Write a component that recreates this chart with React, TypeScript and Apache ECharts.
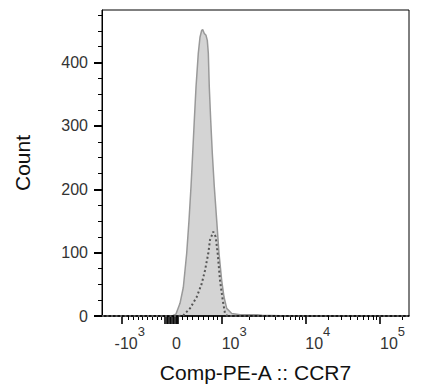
import React, { useEffect, useRef } from "react";
import * as echarts from "echarts";

// X positions are logicle display channels (0..1000 across the axis)
const grayChannel = [0, 221.5, 231.3, 241, 254.1, 264.8, 275.9, 283.4, 289.9, 295.4, 300.7, 306.2, 313.7, 319.2, 324.8, 328, 333.2, 338.8, 343, 346.3, 349.5, 354.1, 359.3, 365.8, 373.6, 381.1, 389.9, 397.4, 406.2, 422.5, 449.5, 482.1, 504.9, 521.2, 579.8, 644.9, 1000];
const grayCount = [0, 0, 1, 3, 20, 45, 99, 151, 204, 257, 309, 361, 415, 440, 451, 452, 446, 443, 435, 415, 361, 309, 257, 204, 151, 99, 56, 30, 12, 4, 2, 2, 2, 1, 0.5, 0, 0];

const dottedChannel = [0, 248.5, 264.8, 286.6, 308.5, 324.8, 335.5, 346.3, 351.8, 362.5, 370.4, 376.9, 384.4, 393.2, 400.7, 408.1, 1000];
const dottedCount = [0, 0, 1, 12, 30, 51, 72, 99, 120, 133, 125, 98, 56, 25, 4, 0, 0];

const xLabelChannel = [64.2, 242.7, 389.9, 662.2, 905.5];
const xTickLabels = ["-10^3", "0", "10^3", "10^4", "10^5"];
const xZeroCluster = [205, 210, 215, 220, 225, 230, 234.5, 239.4, 244.3, 247.6];
const xMinorChannel = [85.7, 102, 118.2, 132.6, 148.9, 165.2, 180.1, 194.5, 262.9, 277.9, 295.4, 313.7, 330, 346.3, 362.5, 375.6, 479.8, 528.7, 563.5, 590.6, 612.4, 628.7, 641.7, 652.4, 735.5, 778.2, 808.8, 832.2, 851.5, 867.8, 882.1, 894.5, 978.8];

const yMajor = [0, 100, 200, 300, 400];
const yMinor = [25, 50, 75, 125, 150, 175, 225, 250, 275, 325, 350, 375, 425, 450, 475];
const yMax = 483;

const xTitle = "Comp-PE-A :: CCR7";
const yTitle = "Count";

const FONT = "'Liberation Sans', Arial, sans-serif";

export default function App() {
  const ref = useRef<HTMLDivElement>(null);
  useEffect(() => {
    if (!ref.current) return;
    const chart = echarts.init(ref.current, undefined, { renderer: "svg" });
    const zip = (xs: number[], ys: number[]) => xs.map((x, i) => [x, ys[i]]);
    const labelColor = "#333";
    const parse = (v: number) => {
      const i = xLabelChannel.findIndex((p) => Math.abs(p - v) < 0.01);
      const lab = xTickLabels[i] ?? "";
      const m = lab.match(/^(-?)10\^(\d+)$/);
      return { lab, m };
    };
    const baseRich = {
      b: { fontSize: 16, lineHeight: 18, fontFamily: FONT, color: labelColor },
      pp: { width: 17.8, fontSize: 10, lineHeight: 10, fontFamily: FONT },
      pn: { width: 8.8, fontSize: 10, lineHeight: 10, fontFamily: FONT },
    };
    const expRich = {
      e: { fontSize: 13, lineHeight: 14, fontFamily: FONT, color: labelColor },
      qp: { width: 17.8, fontSize: 10, lineHeight: 10, fontFamily: FONT },
      qn: { width: 16, fontSize: 10, lineHeight: 10, fontFamily: FONT },
    };
    const hidden = { show: false };
    const option: any = {
      animation: false,
      textStyle: { fontFamily: FONT },
      grid: { left: 102, top: 10, width: 307, height: 306, outerBoundsMode: "none", containLabel: false, show: true, borderColor: "#000", borderWidth: 1, backgroundColor: "transparent", z: 2 },
      xAxis: [
        {
          type: "value", min: 0, max: 1000, position: "bottom", z: 2,
          name: xTitle, nameLocation: "middle", nameGap: 46,
          nameTextStyle: { fontSize: 21, color: "#111", fontFamily: FONT },
          axisLine: { show: true, onZero: false, lineStyle: { color: "#000", width: 1.5 } },
          axisTick: { show: true, length: 8, customValues: [xLabelChannel[0], ...xZeroCluster, ...xLabelChannel.slice(2)], lineStyle: { color: "#000", width: 1.6 } },
          axisLabel: {
            show: true, margin: 18, customValues: xLabelChannel, rich: baseRich,
            formatter: (v: number) => {
              const { lab, m } = parse(v);
              if (!m) return `{b|${lab}}`;
              return m[1] ? `{pn| }{b|-10}` : `{pp| }{b|10}`;
            },
          },
          splitLine: { show: false },
        },
        {
          type: "value", min: 0, max: 1000, position: "bottom", z: 2,
          axisLine: { show: false, onZero: false },
          axisTick: { show: true, length: 4, customValues: xMinorChannel, lineStyle: { color: "#000", width: 1 } },
          axisLabel: hidden,
          splitLine: { show: false },
        },
        {
          type: "value", min: 0, max: 1000, position: "bottom", z: 2,
          axisLine: { show: false, onZero: false },
          axisTick: { show: false },
          axisLabel: {
            show: true, margin: 8, align: "left", customValues: xLabelChannel, rich: expRich,
            formatter: (v: number) => {
              const { m } = parse(v);
              if (!m) return "";
              return m[1] ? `{qn| }{e|${m[2]}}` : `{qp| }{e|${m[2]}}`;
            },
          },
          splitLine: { show: false },
        },
      ],
      yAxis: [
        {
          type: "value", min: 0, max: yMax, interval: 100, position: "left", z: 2,
          name: yTitle, nameLocation: "middle", nameGap: 69,
          nameTextStyle: { fontSize: 21, color: "#111", fontFamily: FONT },
          axisLine: { show: true, onZero: false, lineStyle: { color: "#000", width: 1 } },
          axisTick: { show: true, length: 8, customValues: yMajor, lineStyle: { color: "#000", width: 2 } },
          axisLabel: { show: true, margin: 14, customValues: yMajor, fontSize: 16, color: labelColor, fontFamily: FONT },
          splitLine: { show: false },
        },
        {
          type: "value", min: 0, max: yMax, position: "left", z: 2,
          axisLine: { show: false, onZero: false },
          axisTick: { show: true, length: 4, customValues: yMinor, lineStyle: { color: "#000", width: 1 } },
          axisLabel: hidden,
          splitLine: { show: false },
        },
      ],
      series: [
        {
          type: "line", xAxisIndex: 0, yAxisIndex: 0, z: 1,
          data: zip(grayChannel, grayCount), symbol: "none", smooth: false,
          lineStyle: { color: "#999", width: 1.5 },
          areaStyle: { color: "#d4d4d4", opacity: 1 },
        },
        {
          type: "line", xAxisIndex: 0, yAxisIndex: 0, z: 3,
          data: zip(dottedChannel, dottedCount), symbol: "none", smooth: false,
          lineStyle: { color: "#555", width: 2, type: [2, 2.5] },
        },
      ],
    };
    chart.setOption(option);
    return () => chart.dispose();
  }, []);
  return <div ref={ref} style={{ width: 425, height: 385, position: "absolute", left: 0, top: 0 }} />;
}
